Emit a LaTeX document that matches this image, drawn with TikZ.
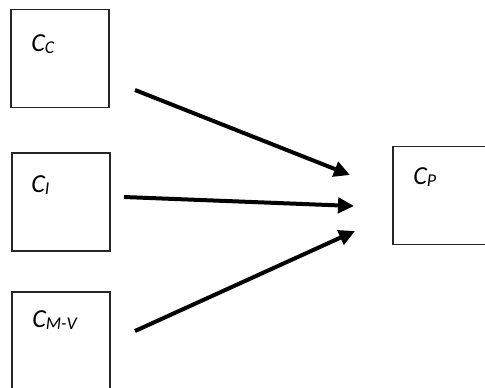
\documentclass[tikz,border=0pt]{standalone}
\usepackage{fontspec}
\setmainfont{Carlito}
\usetikzlibrary{arrows.meta}
\begin{document}
\begin{tikzpicture}[x=0.75pt,y=-0.75pt,
  box/.style={draw=black!85,line width=0.9pt,rectangle,minimum width=73.5pt,minimum height=73.5pt,inner sep=0pt},
  lbl/.style={anchor=base west,inner sep=0pt,font=\fontsize{19.5}{23}\selectfont\itshape},
  conn/.style={line width=3pt,-{Triangle[length=12pt,width=11.5pt]}}]
\useasboundingbox (0,0) rectangle (485,387);
\clip (0,0) rectangle (485,387);
\fill[white] (0,0) rectangle (485,387);
\newcommand{\subtxt}[1]{\raisebox{-1.8pt}{\fontsize{13.5}{15}\selectfont #1}}
% boxes
\node[box] (cc) at (60,58.5) {};
\node[box] (ci) at (61,202) {};
\node[box] (cmv) at (61,341) {};
\node[box] (cp) at (442,195.5) {};
% labels
\node[lbl] (tcc) at (31,51) {C\subtxt{C}};
\node[lbl] (tci) at (31,192) {C\subtxt{I}};
\node[lbl] (tcmv) at (32,327) {C\subtxt{M-V}};
\node[lbl] (tcp) at (413,184) {C\subtxt{P}};
% arrow ends
\coordinate (a1s) at (135,90);
\coordinate (a1e) at (350,175);
\coordinate (a2s) at (124,197);
\coordinate (a2e) at (354,206);
\coordinate (a3s) at (135,331);
\coordinate (a3e) at (355,231);
\draw[conn] (a1s) -- (a1e);
\draw[conn] (a2s) -- (a2e);
\draw[conn] (a3s) -- (a3e);
\end{tikzpicture}
\end{document}
